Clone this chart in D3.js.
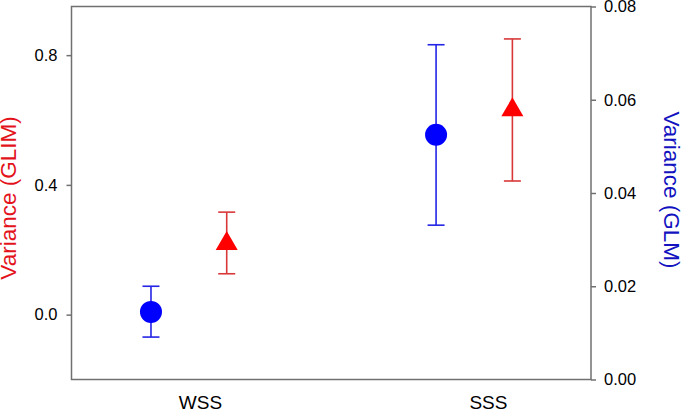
<!DOCTYPE html>
<html>
<head>
<meta charset="utf-8">
<script src="https://cdn.jsdelivr.net/npm/d3@7"></script>
<style>
  body { margin: 0; background: #fff; }
  svg { display: block; font-family: "Liberation Sans", Arial, sans-serif; }
  .axis text { fill: #000; font-size: 16.5px; }
  .axis line { stroke: #707070; stroke-width: 1.5; }
  .axis path { display: none; }
</style>
</head>
<body>
<div id="chart"></div>
<script>
// categorias e posições (em unidades do eixo x)
var categories = ["WSS", "SSS"];
var categoryX = [1, 2];
var glmX = [0.83, 1.82];
var glimX = [1.093, 2.085];

// GLIM (eixo esquerdo, vermelho)
var glimMean = [0.219, 0.631];
var glimLow = [0.126, 0.412];
var glimHigh = [0.316, 0.850];

// GLM (eixo direito, azul)
var glmMean = [0.0145, 0.0525];
var glmLow = [0.0091, 0.0331];
var glmHigh = [0.0200, 0.0718];

// ticks
var leftTicks = [0.0, 0.4, 0.8];
var rightTicks = [0.00, 0.02, 0.04, 0.06, 0.08];

var margin = {top: 6.5, right: 91, bottom: 31.5, left: 71.5};
var W = 682, H = 411;
var width = W - margin.left - margin.right;
var height = H - margin.top - margin.bottom;

var svg = d3.select("#chart").append("svg")
    .attr("width", W)
    .attr("height", H)
  .append("g")
    .attr("transform", "translate(" + margin.left + "," + margin.top + ")");

var x = d3.scaleLinear().domain([0.554, 2.358]).range([0, width]);
var yL = d3.scaleLinear().domain([-0.2, 0.95]).range([height, 0]);
var yR = d3.scaleLinear().domain([0, 0.08]).range([height, 0]);

// moldura
svg.append("rect")
    .attr("width", width)
    .attr("height", height)
    .attr("fill", "none")
    .attr("stroke", "#707070")
    .attr("stroke-width", 1.5);

// eixos
svg.append("g")
    .attr("class", "axis y-left")
    .call(d3.axisLeft(yL).tickValues(leftTicks).tickSize(5).tickPadding(9)
      .tickFormat(d3.format(".1f")));

svg.append("g")
    .attr("class", "axis y-right")
    .attr("transform", "translate(" + width + ",0)")
    .call(d3.axisRight(yR).tickValues(rightTicks).tickSize(5).tickPadding(8)
      .tickFormat(d3.format(".2f")));

var xAxis = svg.append("g")
    .attr("class", "axis x")
    .attr("transform", "translate(0," + height + ")")
    .call(d3.axisBottom(x).tickValues(categoryX).tickSize(0).tickPadding(16)
      .tickFormat(function(d, i) { return categories[i]; }));
xAxis.selectAll("text").style("font-size", "19px");
xAxis.selectAll("line").remove();

// títulos dos eixos
svg.append("text")
    .attr("transform", "translate(" + (16 - margin.left) + "," + (198 - margin.top) + ") rotate(-90)")
    .attr("text-anchor", "middle")
    .attr("fill", "#e3121b")
    .style("font-size", "22.5px")
    .text("Variance (GLIM)");

svg.append("text")
    .attr("transform", "translate(" + (664 - margin.left) + "," + (190 - margin.top) + ") rotate(90)")
    .attr("text-anchor", "middle")
    .attr("fill", "#1212c0")
    .style("font-size", "22.5px")
    .text("Variance (GLM)");

// barras de erro
function errorBars(xs, lo, hi, yScale, color) {
  var g = svg.append("g")
      .attr("stroke", color)
      .attr("stroke-width", 1.6)
      .attr("fill", "none");
  xs.forEach(function(xv, i) {
    var cx = x(xv);
    g.append("line").attr("x1", cx).attr("x2", cx)
      .attr("y1", yScale(lo[i])).attr("y2", yScale(hi[i]));
    g.append("line").attr("x1", cx - 8.5).attr("x2", cx + 8.5)
      .attr("y1", yScale(lo[i])).attr("y2", yScale(lo[i]));
    g.append("line").attr("x1", cx - 8.5).attr("x2", cx + 8.5)
      .attr("y1", yScale(hi[i])).attr("y2", yScale(hi[i]));
  });
}

errorBars(glmX, glmLow, glmHigh, yR, "#2424e6");
errorBars(glimX, glimLow, glimHigh, yL, "#d83838");

// pontos
svg.selectAll(".glm")
    .data(glmMean)
  .enter().append("circle")
    .attr("class", "glm")
    .attr("cx", function(d, i) { return x(glmX[i]); })
    .attr("cy", function(d) { return yR(d); })
    .attr("r", 11)
    .attr("fill", "#0000ff");

var tri = d3.symbol().type(d3.symbolTriangle).size(210);
svg.selectAll(".glim")
    .data(glimMean)
  .enter().append("path")
    .attr("class", "glim")
    .attr("d", tri)
    .attr("transform", function(d, i) { return "translate(" + x(glimX[i]) + "," + yL(d) + ")"; })
    .attr("fill", "#ff0000");
</script>
</body>
</html>
